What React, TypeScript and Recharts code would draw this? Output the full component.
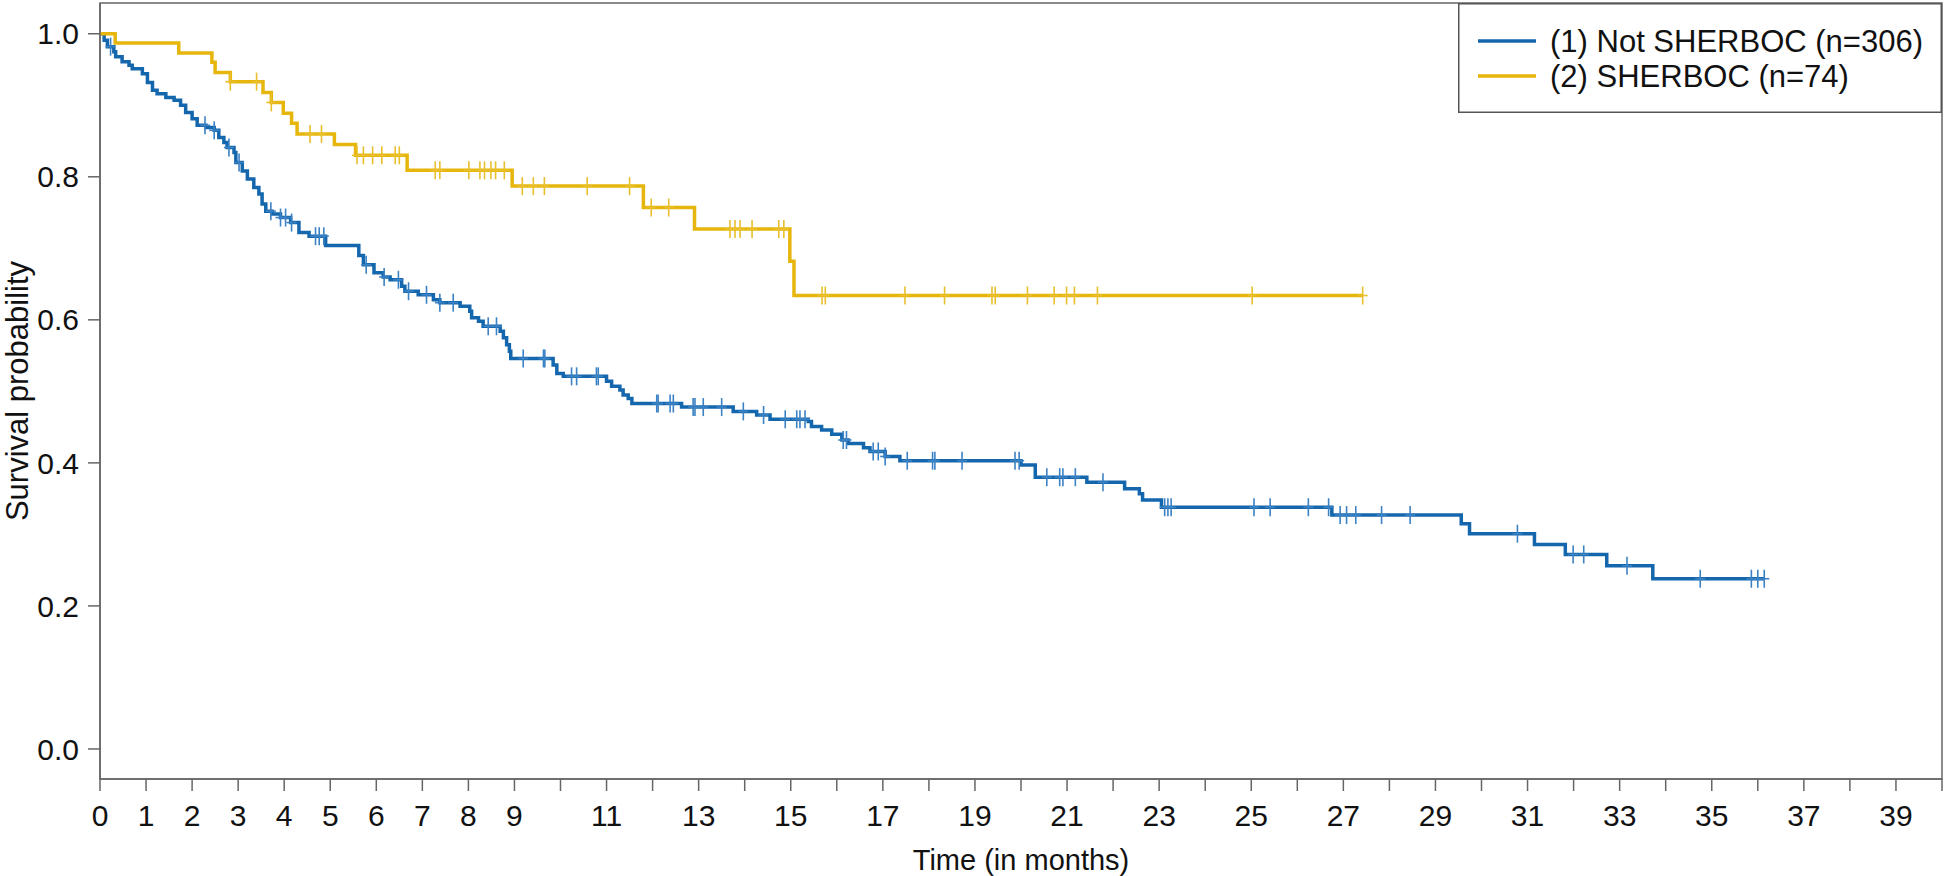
import React from 'react';
import { ComposedChart, Line, Scatter, XAxis, YAxis, ReferenceArea, Legend } from 'recharts';

// Kaplan-Meier steps: time (months) at which the curve drops, and the survival after the drop
const NOT_SHERBOC_TIMES = [
  0, 0.09, 0.16, 0.3, 0.34, 0.48, 0.63, 0.7, 0.92, 1.03, 1.14, 1.24, 1.43, 1.61, 1.75, 1.86, 2.0, 2.11,
  2.3, 2.48, 2.58, 2.69, 2.76, 2.91, 2.95, 3.09, 3.2, 3.34, 3.45, 3.52, 3.6, 3.74, 3.92, 4.14, 4.32, 4.54,
  4.9, 5.62, 5.72, 5.95, 6.15, 6.3, 6.55, 6.62, 6.91, 7.24, 7.38, 7.82, 8.03, 8.07, 8.22, 8.32, 8.69, 8.76,
  8.83, 8.89, 8.92, 9.84, 9.92, 10.06, 11.0, 11.11, 11.29, 11.36, 11.47, 11.55, 12.63, 13.75, 14.26, 14.55,
  15.38, 15.45, 15.67, 15.89, 16.11, 16.25, 16.58, 16.72, 17.05, 17.37, 20.0, 20.31, 21.43, 22.25, 22.57,
  22.64, 23.05, 26.75, 29.56, 29.74, 31.15, 31.82, 32.72, 33.72, 36.14,
];
const NOT_SHERBOC_SURV = [
  1.0, 0.991, 0.982, 0.975, 0.968, 0.961, 0.956, 0.951, 0.944, 0.932, 0.921, 0.916, 0.911, 0.907, 0.9, 0.89,
  0.881, 0.872, 0.869, 0.865, 0.855, 0.848, 0.841, 0.834, 0.82, 0.808, 0.797, 0.785, 0.776, 0.762, 0.752,
  0.748, 0.743, 0.736, 0.722, 0.717, 0.704, 0.69, 0.677, 0.666, 0.66, 0.656, 0.647, 0.64, 0.635, 0.628,
  0.624, 0.619, 0.612, 0.603, 0.598, 0.591, 0.584, 0.575, 0.565, 0.556, 0.546, 0.537, 0.525, 0.521, 0.514,
  0.507, 0.502, 0.495, 0.49, 0.483, 0.478, 0.472, 0.467, 0.461, 0.458, 0.451, 0.446, 0.44, 0.432, 0.427,
  0.421, 0.416, 0.409, 0.403, 0.397, 0.38, 0.373, 0.364, 0.357, 0.348, 0.338, 0.327, 0.315, 0.301, 0.286,
  0.272, 0.256, 0.238, 0.238,
];
const NOT_SHERBOC_CENSORED = [
  0.23, 2.28, 2.48, 2.8, 3.02, 3.71, 3.92, 4.03, 4.16, 4.68, 4.76, 4.86, 5.78, 6.17, 6.48, 6.7, 7.09, 7.38,
  7.67, 8.43, 8.61, 9.19, 9.63, 9.66, 10.24, 10.35, 10.78, 10.82, 12.09, 12.12, 12.38, 12.45, 12.88, 12.92,
  13.1, 13.5, 13.97, 14.41, 14.88, 15.13, 15.2, 15.31, 16.14, 16.21, 16.79, 16.9, 17.05, 17.53, 18.08,
  18.13, 18.72, 19.87, 19.96, 20.56, 20.84, 20.91, 21.18, 21.78, 23.12, 23.19, 23.26, 25.06, 25.41, 26.24,
  26.68, 26.93, 27.07, 27.27, 27.83, 28.45, 30.78, 31.99, 32.22, 33.16, 34.75, 35.86, 36.0, 36.14,
];

const SHERBOC_TIMES = [
  0, 0.33, 1.71, 2.43, 2.5, 2.83, 3.54, 3.72, 3.98, 4.16, 4.28, 5.09, 5.55, 6.67, 8.95, 11.8, 12.91, 14.98,
  15.07, 27.42,
];
const SHERBOC_SURV = [
  1.0, 0.987, 0.973, 0.96, 0.946, 0.933, 0.918, 0.904, 0.889, 0.875, 0.86, 0.845, 0.83, 0.809, 0.787, 0.757,
  0.727, 0.682, 0.634, 0.634,
];
const SHERBOC_CENSORED = [
  2.83, 3.4, 3.72, 4.56, 4.81, 5.58, 5.72, 5.92, 6.12, 6.41, 6.5, 7.28, 7.38, 8.01, 8.25, 8.35, 8.49, 8.59,
  8.78, 9.17, 9.41, 9.65, 10.58, 11.5, 11.97, 12.35, 13.68, 13.79, 13.9, 14.16, 14.74, 14.85, 15.68, 15.75,
  17.48, 18.34, 19.37, 19.44, 20.14, 20.72, 20.99, 21.16, 21.66, 25.02, 27.42,
];

const X_TICKS = [
  0, 1, 2, 3, 4, 5, 6, 7, 8, 9, 10, 11, 12, 13, 14, 15, 16, 17, 18, 19, 20, 21, 22, 23, 24, 25, 26, 27, 28,
  29, 30, 31, 32, 33, 34, 35, 36, 37, 38, 39, 40,
];
const X_TICK_LABELS = [
  '0', '1', '2', '3', '4', '5', '6', '7', '8', '9', '', '11', '', '13', '', '15', '', '17', '', '19', '',
  '21', '', '23', '', '25', '', '27', '', '29', '', '31', '', '33', '', '35', '', '37', '', '39', '',
];
const Y_TICKS = [0, 0.2, 0.4, 0.6, 0.8, 1.0];
const Y_TICK_LABELS = ['0.0', '0.2', '0.4', '0.6', '0.8', '1.0'];

const LEGEND_ITEMS = [
  { label: '(1) Not SHERBOC (n=306)', color: '#1467ad' },
  { label: '(2) SHERBOC (n=74)', color: '#e6b60c' },
];

const BLUE = '#1467ad';
const YELLOW = '#e6b60c';
const FONT = "'Liberation Sans', Arial, Helvetica, sans-serif";
const Y_DOMAIN: [number, number] = [-0.042, 1.043];

const survivalAt = (times: number[], surv: number[], t: number) => {
  let v = surv[0];
  for (let i = 0; i < times.length; i++) {
    if (times[i] <= t + 1e-9) v = surv[i];
  }
  return v;
};

const blueCurve = NOT_SHERBOC_TIMES.map((t, i) => ({ t, s: NOT_SHERBOC_SURV[i] }));
const yellowCurve = SHERBOC_TIMES.map((t, i) => ({ t, s: SHERBOC_SURV[i] }));
const blueCensor = NOT_SHERBOC_CENSORED.map(t => ({ t, s: survivalAt(NOT_SHERBOC_TIMES, NOT_SHERBOC_SURV, t) }));
const yellowCensor = SHERBOC_CENSORED.map(t => ({ t, s: survivalAt(SHERBOC_TIMES, SHERBOC_SURV, t) }));

const censorMark = (color: string) => (props: any) => {
  const { cx, cy } = props;
  if (cx == null || cy == null) return <g />;
  return (
    <g>
      <line x1={cx} x2={cx} y1={cy - 9} y2={cy + 9} stroke={color} strokeWidth={1.6} />
      <line x1={cx - 5} x2={cx + 5} y1={cy} y2={cy} stroke={color} strokeWidth={1.6} />
    </g>
  );
};

const renderLegend = () => (
  <svg width={484} height={110} style={{ display: 'block' }}>
    <rect x={0.75} y={0.75} width={482.5} height={108.5} fill="#fff" stroke="#555" strokeWidth={1.5} />
    {LEGEND_ITEMS.map((item, i) => (
      <g key={item.label}>
        <line x1={20} x2={78} y1={38 + i * 35} y2={38 + i * 35} stroke={item.color} strokeWidth={3.5} />
        <text x={92} y={38 + i * 35} dominantBaseline="central" fontSize={31} fill="#111" fontFamily={FONT}>
          {item.label}
        </text>
      </g>
    ))}
  </svg>
);

export default function App() {
  return (
    <div style={{ position: 'absolute', left: 0, top: 0, width: 1946, height: 876, background: '#fff', fontFamily: FONT }}>
      <ComposedChart width={1946} height={876} margin={{ top: 3, right: 4, bottom: 0, left: 0 }}>
        <XAxis
          dataKey="t"
          type="number"
          domain={[0, 40]}
          ticks={X_TICKS}
          interval={0}
          allowDataOverflow
          tickFormatter={(v: number) => X_TICK_LABELS[X_TICKS.indexOf(v)] ?? ''}
          tickSize={12}
          tickMargin={14}
          height={97}
          stroke="#666"
          strokeWidth={1.5}
          tick={{ fill: '#111', fontSize: 30, fontFamily: FONT }}
          label={{ value: 'Time (in months)', position: 'insideBottom', offset: 6, fill: '#111', fontSize: 29, fontFamily: FONT }}
        />
        <YAxis
          type="number"
          domain={Y_DOMAIN}
          ticks={Y_TICKS}
          interval={0}
          allowDataOverflow
          tickFormatter={(v: number) => Y_TICK_LABELS[Y_TICKS.indexOf(v)] ?? ''}
          tickSize={12}
          tickMargin={9}
          width={100}
          stroke="#666"
          strokeWidth={1.5}
          tick={{ fill: '#111', fontSize: 30, fontFamily: FONT }}
          label={{
            value: 'Survival probability',
            angle: -90,
            position: 'insideLeft',
            offset: 17,
            fill: '#111',
            fontSize: 31,
            fontFamily: FONT,
            style: { textAnchor: 'middle', fontSize: 31 },
          }}
        />
        <ReferenceArea x1={0} x2={40} y1={Y_DOMAIN[0]} y2={Y_DOMAIN[1]} fill="none" stroke="#666" strokeWidth={1.5} />
        <Line
          data={blueCurve}
          dataKey="s"
          type="stepAfter"
          stroke={BLUE}
          strokeWidth={3.5}
          dot={false}
          activeDot={false}
          isAnimationActive={false}
          name="(1) Not SHERBOC (n=306)"
        />
        <Line
          data={yellowCurve}
          dataKey="s"
          type="stepAfter"
          stroke={YELLOW}
          strokeWidth={3.5}
          dot={false}
          activeDot={false}
          isAnimationActive={false}
          name="(2) SHERBOC (n=74)"
        />
        <Scatter data={blueCensor} dataKey="s" shape={censorMark('#3b82c4')} isAnimationActive={false} legendType="none" />
        <Scatter data={yellowCensor} dataKey="s" shape={censorMark('#e9bf2c')} isAnimationActive={false} legendType="none" />
        <Legend
          layout="horizontal"
          verticalAlign="middle"
          align="center"
          content={renderLegend}
          wrapperStyle={{ position: 'absolute', left: 1458, top: 3, width: 484, height: 110 }}
        />
      </ComposedChart>
    </div>
  );
}
